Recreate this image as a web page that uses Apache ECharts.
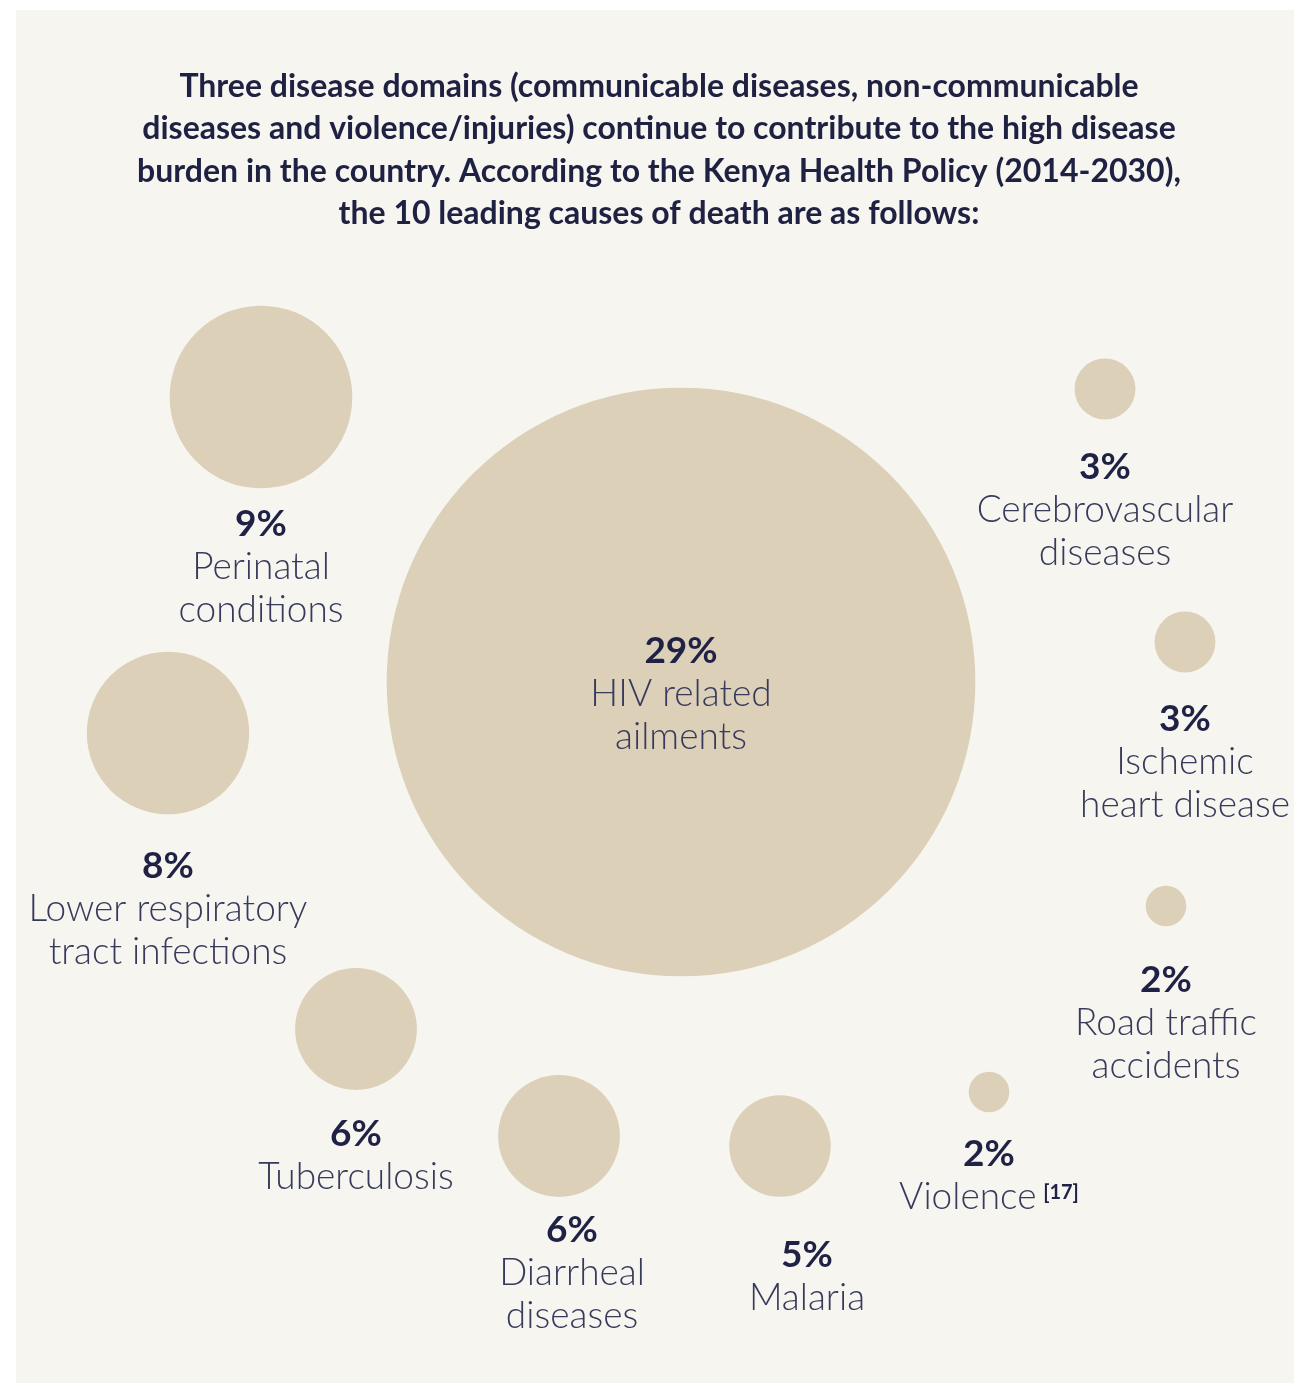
<!DOCTYPE html>
<html>
<head>
<meta charset="utf-8">
<title>Leading causes of death in Kenya</title>
<script src="https://cdn.jsdelivr.net/npm/echarts@6/dist/echarts.min.js"></script>
<style>
  html, body { margin: 0; padding: 0; background: #ffffff; }
  #bubbles { width: 1294px; height: 1383px; }
</style>
</head>
<body>
<div id="bubbles"></div>
<script>
// data
const causes = [
  'HIV related\nailments',
  'Perinatal\nconditions',
  'Lower respiratory\ntract infections',
  'Tuberculosis',
  'Diarrheal\ndiseases',
  'Malaria',
  'Violence',
  'Road traffic\naccidents',
  'Ischemic\nheart disease',
  'Cerebrovascular\ndiseases'
]
const shares = [29, 9, 8, 6, 6, 5, 2, 2, 3, 3]
const footnotes = ['', '', '', '', '', '', '[17]', '', '', '']

// layout (where each bubble sits on the hidden canvas axes, and label nudges)
const bubbleX = [681, 261, 168, 356, 559, 780, 989, 1166, 1185, 1105]
const bubbleY = [682, 397, 733, 1029, 1136, 1146, 1092, 906, 642, 389]
const labelDx = [0, 0, 0, 0, 13, 27, 0, 0, 0, 0]
const labelDy = [12, 170, 176, 127, 137, 131, 84, 117, 120, 121]

const W = 1294
const H = 1383
const pxPerPoint = 10.15 // bubble radius grows linearly with the share

const chart = echarts.init(document.getElementById('bubbles'), null, { renderer: 'canvas' })

const titleText = 'Three disease domains (communicable diseases, non-communicable\n' +
  'diseases and violence/injuries) continue to contribute to the high disease\n' +
  'burden in the country. According to the Kenya Health Policy (2014-2030),\n' +
  'the 10 leading causes of death are as follows:'

const seriesData = causes.map((name, i) => {
  const note = footnotes[i] ? '  {ref|' + footnotes[i] + '}' : ''
  return {
    name: name,
    value: [bubbleX[i], bubbleY[i], shares[i]],
    label: {
      offset: [labelDx[i], labelDy[i]],
      formatter: '{pct|' + shares[i] + '%}\n' +
        name.split('\n').map((l, j, arr) => '{name|' + l + '}' + (j === arr.length - 1 ? note : '')).join('\n')
    }
  }
})

chart.setOption({
  backgroundColor: '#ffffff',
  animation: false,
  graphic: [{
    type: 'rect',
    z: -10,
    shape: { x: 16, y: 10, width: W - 16, height: H - 10 },
    style: { fill: '#f6f5f0' }
  }, {
    type: 'text',
    x: 659,
    y: 65,
    style: {
      text: titleText,
      align: 'center',
      verticalAlign: 'top',
      fontFamily: 'Lato',
      fontWeight: 'bold',
      fontSize: 32,
      lineHeight: 42.5,
      fill: '#1e2142'
    }
  }],
  grid: { left: 0, right: 0, top: 0, bottom: 0 },
  xAxis: { type: 'value', min: 0, max: W, show: false },
  yAxis: { type: 'value', min: 0, max: H, inverse: true, show: false },
  series: [{
    type: 'scatter',
    data: seriesData,
    symbol: 'circle',
    symbolSize: val => val[2] * pxPerPoint * 2,
    itemStyle: { color: '#ddd0b9', opacity: 1 },
    emphasis: { disabled: true },
    label: {
      show: true,
      position: 'inside',
      align: 'center',
      verticalAlign: 'middle',
      rich: {
        pct: {
          fontFamily: 'Lato',
          fontWeight: 'bold',
          fontSize: 37,
          lineHeight: 43,
          color: '#1f2245',
          align: 'center'
        },
        name: {
          fontFamily: 'Lato',
          fontWeight: 300,
          fontSize: 37,
          lineHeight: 43,
          color: '#373a5a',
          align: 'center'
        },
        ref: {
          fontFamily: 'Lato',
          fontWeight: 'bold',
          fontSize: 20,
          lineHeight: 20,
          verticalAlign: 'middle',
          color: '#1f2245',
          padding: [0, 0, 10, 0]
        }
      }
    }
  }]
})
</script>
</body>
</html>
